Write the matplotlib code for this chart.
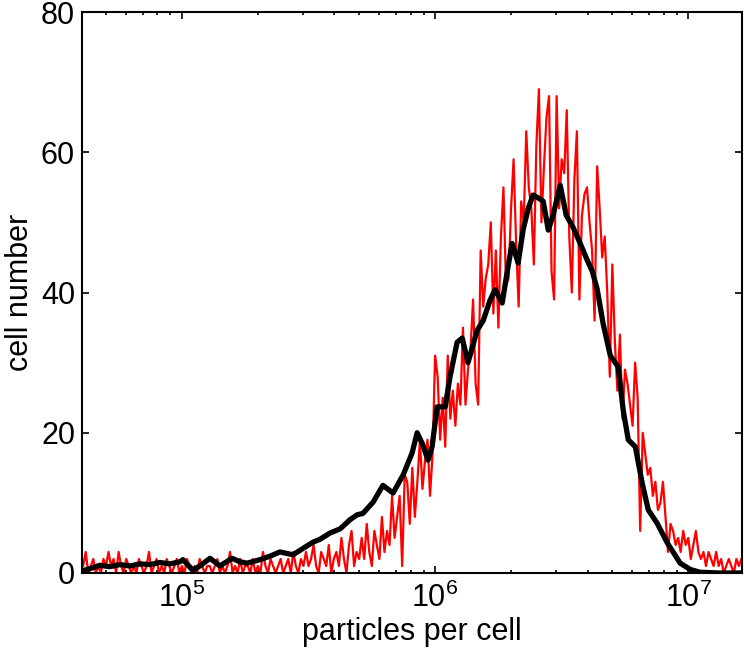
import numpy as np
import matplotlib
matplotlib.use("Agg")
import matplotlib.pyplot as plt
from matplotlib.ticker import LogLocator, NullFormatter, FixedLocator

# ---- data ----
# red histogram: log10(particles per cell) from 4.61 to 7.21 in 0.01 steps
red_log_start = 4.61
red_log_step = 0.01
red_counts = [
    1, 3, 0, 1, 2, 0, 1, 0, 2, 1,
    3, 1, 2, 0, 3, 1, 0, 2, 1, 0,
    1, 0, 2, 1, 0, 1, 3, 0, 1, 2,
    0, 1, 0, 2, 1, 0, 1, 2, 0, 1,
    0, 2, 1, 0, 1, 0, 2, 1, 0, 1,
    1, 0, 1, 2, 0, 1, 0, 1, 3, 0,
    1, 0, 2, 0, 1, 1, 0, 2, 0, 1,
    0, 3, 1, 0, 2, 1, 0, 1, 2, 0,
    1, 2, 0, 3, 1, 0, 2, 1, 3, 1,
    2, 4, 1, 0, 3, 2, 1, 4, 0, 2,
    3, 1, 5, 2, 0, 4, 6, 1, 3, 2,
    5, 2, 7, 3, 1, 6, 4, 2, 8, 3,
    6, 4, 11, 5, 8, 11, 1, 14, 13, 7,
    15, 8, 13, 19, 12, 16, 19, 11, 17, 31,
    28, 19, 25, 18, 31, 22, 26, 21, 27, 24,
    35, 24, 29, 32, 39, 27, 24, 46, 38, 42,
    44, 50, 37, 46, 35, 48, 55, 41, 42, 52,
    59, 47, 38, 53, 50, 63, 55, 52, 44, 61,
    69, 50, 58, 65, 68, 43, 39, 68, 52, 59,
    57, 66, 48, 40, 56, 63, 39, 51, 54, 55,
    50, 46, 36, 58, 52, 45, 48, 40, 28, 44,
    33, 26, 34, 22, 29, 27, 24, 21, 30, 25,
    6, 20, 17, 14, 15, 11, 13, 9, 10, 13,
    8, 3, 7, 6, 4, 5, 3, 6, 4, 5,
    2, 4, 6, 3, 2, 3, 1, 3, 2, 1,
    3, 1, 2, 0, 1, 2, 1, 0, 2, 1,
    2,
]

# black curve: log10(particles per cell) and cell number
black_log = [
    4.605, 4.636, 4.676, 4.715, 4.755, 4.794, 4.834, 4.874, 4.913, 4.953,
    4.992, 5.004, 5.043, 5.071, 5.111, 5.150, 5.198, 5.229, 5.257, 5.308,
    5.348, 5.387, 5.439, 5.478, 5.518, 5.545, 5.585, 5.625, 5.664, 5.692,
    5.715, 5.755, 5.794, 5.834, 5.874, 5.909, 5.929, 5.949, 5.972, 5.988,
    6.008, 6.040, 6.059, 6.087, 6.107, 6.130, 6.166, 6.190, 6.217, 6.237,
    6.265, 6.285, 6.304, 6.328, 6.348, 6.368, 6.387, 6.407, 6.427, 6.447,
    6.466, 6.494, 6.518, 6.545, 6.573, 6.601, 6.621, 6.640, 6.664, 6.692,
    6.723, 6.743, 6.763, 6.791, 6.818, 6.842, 6.877, 6.917, 6.968, 7.008,
    7.047, 7.126, 7.213,
]
black_counts = [
    0.3, 0.6, 1.1, 0.9, 1.2, 1.0, 1.3, 1.2, 1.5, 1.3,
    1.6, 1.9, 0.4, 1.0, 2.1, 1.0, 2.1, 1.6, 1.4, 1.9,
    2.4, 3.0, 2.6, 3.5, 4.4, 4.8, 5.7, 6.3, 7.6, 8.3,
    8.5, 10.1, 12.5, 11.4, 14.0, 17.1, 20.0, 18.5, 16.1, 18.0,
    23.7, 23.7, 28.0, 32.9, 33.5, 30.0, 34.6, 36.0, 38.9, 40.4,
    38.5, 43.0, 47.0, 44.2, 49.0, 52.0, 53.9, 53.5, 53.0, 48.9,
    51.0, 55.3, 51.0, 49.3, 47.0, 44.6, 43.0, 40.5, 35.5, 31.0,
    29.4, 23.2, 19.0, 18.0, 12.8, 9.0, 7.1, 4.3, 1.4, 0.5,
    0.1, 0.0, 0.0,
]

x_limits = (4.03e4, 1.63e7)
y_limits = (0, 80)
y_ticks = [0, 20, 40, 60, 80]
x_label = "particles per cell"
y_label = "cell number"

# ---- figure ----
plt.rcParams['font.family'] = ['Liberation Sans', 'DejaVu Sans']
plt.rcParams['mathtext.fontset'] = 'custom'
plt.rcParams['mathtext.rm'] = 'Liberation Sans'
plt.rcParams['mathtext.it'] = 'Liberation Sans:italic'
plt.rcParams['mathtext.bf'] = 'Liberation Sans:bold'

fig = plt.figure(figsize=(7.44, 6.62), dpi=100)
ax = fig.add_axes([82/744, 1-573/662, (742-82)/744, (573-12)/662])

red_x = 10 ** (red_log_start + red_log_step * np.arange(len(red_counts)))
black_x = 10 ** np.array(black_log)

ax.plot(red_x, red_counts, color='#ff0000', lw=1.6, zorder=2)
ax.plot(black_x, black_counts, color='black', lw=3.8, zorder=3,
        solid_joinstyle='round')

ax.set_xscale('log')
ax.set_xlim(*x_limits)
ax.set_ylim(*y_limits)
ax.yaxis.set_major_locator(FixedLocator(y_ticks))
ax.xaxis.set_major_locator(LogLocator(base=10, numticks=10))
ax.xaxis.set_minor_locator(LogLocator(base=10, subs=np.arange(2, 10), numticks=20))
ax.xaxis.set_minor_formatter(NullFormatter())

for s in ax.spines.values():
    s.set_linewidth(1.5)
ax.tick_params(which='both', direction='in', top=True, right=True, width=1.2)
ax.tick_params(which='major', length=5, labelsize=22)
ax.tick_params(which='minor', length=2.5)
ax.tick_params(axis='x', which='major', pad=7)
ax.tick_params(axis='y', which='major', pad=5)

ax.set_xlabel(x_label, fontsize=22, labelpad=2)
ax.set_ylabel(y_label, fontsize=22, labelpad=4)

fig.savefig('out.png', dpi=100)
